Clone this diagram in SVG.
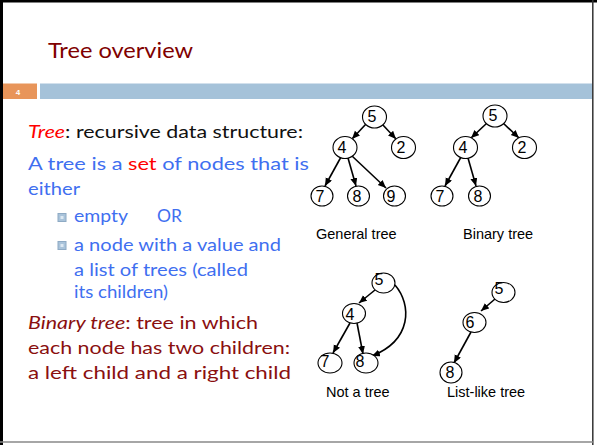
<svg xmlns="http://www.w3.org/2000/svg" width="597" height="445" viewBox="0 0 597 445">
<style>
.body{font-family:Lato,"Open Sans","Liberation Sans",sans-serif;font-size:18px}
.blue{fill:#3f6ff0}
.red{fill:#ff0000}
.dk{fill:#8a0f0f}
.blk{fill:#111}
.nd ellipse{fill:#fff;stroke:#000;stroke-width:1.1}
.nd text{font-family:"Liberation Sans",Arial,sans-serif;font-size:16px;text-anchor:middle;fill:#000}
.cap{font-family:"Liberation Sans",Arial,sans-serif;font-size:14.5px;fill:#000}
.e{stroke:#000;stroke-width:1.6;fill:none;marker-end:url(#ah)}
.bul{fill:#a9c3da;stroke:#8eaac4;stroke-width:1}
</style>
<defs>
<marker id="ah" markerUnits="userSpaceOnUse" markerWidth="9" markerHeight="8" refX="8" refY="3.5" orient="auto">
<path d="M0,0 L8,3.5 L0,7 z" fill="#000"/>
</marker>
</defs>
<rect x="0" y="0" width="597" height="445" fill="#fff"/>
<!-- frame -->
<rect x="0" y="0" width="3" height="445" fill="#000"/>
<rect x="0" y="0" width="597" height="2.5" fill="#000"/>
<line x1="592.8" y1="0" x2="592.8" y2="445" stroke="#333" stroke-width="1.5"/>
<line x1="0" y1="442" x2="593" y2="442" stroke="#888" stroke-width="1.5"/>
<!-- title -->
<text x="48" y="58" font-family="Lato,'Open Sans','Liberation Sans',sans-serif" font-size="22" fill="#800000" textLength="145" lengthAdjust="spacingAndGlyphs">Tree overview</text>
<rect x="3" y="83.5" width="34" height="15.5" fill="#e8955a"/>
<rect x="40" y="83.5" width="552" height="15.5" fill="#a5c2d9"/>
<text x="18" y="94.5" font-family="'Liberation Sans',Arial,sans-serif" font-size="8" font-weight="bold" fill="#fff" text-anchor="middle">4</text>
<!-- body text -->
<text class="body blk" x="28" y="138" textLength="275" lengthAdjust="spacingAndGlyphs"><tspan class="red" font-style="italic">Tree</tspan>: recursive data structure:</text>
<text class="body blue" x="28" y="170" textLength="281" lengthAdjust="spacingAndGlyphs">A tree is a <tspan class="red">set</tspan> of nodes that is</text>
<text class="body blue" x="28" y="195" textLength="52" lengthAdjust="spacingAndGlyphs">either</text>
<rect class="bul" x="58" y="213.5" width="8" height="8"/>
<rect x="60.5" y="216" width="3" height="3" fill="#dce8f2"/>
<text class="body blue" x="74" y="222" textLength="54" lengthAdjust="spacingAndGlyphs">empty</text>
<text class="body blue" x="157" y="222" textLength="25" lengthAdjust="spacingAndGlyphs">OR</text>
<rect class="bul" x="58" y="241.5" width="8" height="8"/>
<rect x="60.5" y="244" width="3" height="3" fill="#dce8f2"/>
<text class="body blue" x="74" y="251" textLength="207" lengthAdjust="spacingAndGlyphs">a node with a value and</text>
<text class="body blue" x="74" y="276" textLength="174" lengthAdjust="spacingAndGlyphs">a list of trees (called</text>
<text class="body blue" x="74" y="298" textLength="94" lengthAdjust="spacingAndGlyphs">its children)</text>
<text class="body dk" x="28" y="329" textLength="230" lengthAdjust="spacingAndGlyphs"><tspan font-style="italic">Binary tree</tspan>: tree in which</text>
<text class="body dk" x="28" y="354" textLength="262" lengthAdjust="spacingAndGlyphs">each node has two children:</text>
<text class="body dk" x="28" y="379" textLength="263" lengthAdjust="spacingAndGlyphs">a left child and a right child</text>
<!-- connectors -->
<g id="connectors">
<line class="e" x1="366" y1="124" x2="352" y2="139"/>
<line class="e" x1="382" y1="124" x2="396" y2="139"/>
<line class="e" x1="341" y1="157" x2="325" y2="186"/>
<line class="e" x1="348" y1="158" x2="356" y2="186"/>
<line class="e" x1="352" y1="156" x2="386" y2="188"/>
<line class="e" x1="487" y1="123" x2="471" y2="138"/>
<line class="e" x1="503" y1="123" x2="519" y2="138"/>
<line class="e" x1="461" y1="157" x2="445" y2="186"/>
<line class="e" x1="468" y1="158" x2="476" y2="186"/>
<line class="e" x1="375" y1="290" x2="359" y2="303"/>
<line class="e" x1="350" y1="323" x2="333" y2="353"/>
<line class="e" x1="357" y1="323" x2="363" y2="354"/>
<path class="e" d="M395,285 C412,305 412,340 372,356"/>
<line class="e" x1="495" y1="299" x2="481" y2="311"/>
<line class="e" x1="471" y1="332" x2="454" y2="363"/>
</g>
<!-- general tree -->
<g id="g5" class="nd"><ellipse cx="374.5" cy="117" rx="12" ry="11"/><text x="372" y="122">5</text></g>
<g id="g4" class="nd"><ellipse cx="345" cy="147.5" rx="12" ry="11"/><text x="342" y="153">4</text></g>
<g id="g2" class="nd"><ellipse cx="403.5" cy="147.5" rx="12" ry="11"/><text x="401" y="153">2</text></g>
<g id="g7" class="nd"><ellipse cx="322" cy="196" rx="11" ry="10"/><text x="320" y="201.5">7</text></g>
<g id="g8" class="nd"><ellipse cx="358.5" cy="196" rx="11" ry="10"/><text x="357" y="201.5">8</text></g>
<g id="g9" class="nd"><ellipse cx="394.5" cy="196" rx="11" ry="10"/><text x="391" y="201.5">9</text></g>
<text class="cap" x="316" y="239">General tree</text>
<!-- binary tree -->
<g id="b5" class="nd"><ellipse cx="495" cy="116" rx="12" ry="11"/><text x="493" y="121">5</text></g>
<g id="b4" class="nd"><ellipse cx="465.5" cy="147.5" rx="12" ry="11"/><text x="463" y="153">4</text></g>
<g id="b2" class="nd"><ellipse cx="524.5" cy="147.5" rx="12" ry="11"/><text x="522" y="153">2</text></g>
<g id="b7" class="nd"><ellipse cx="442" cy="196" rx="11" ry="10"/><text x="440" y="201.5">7</text></g>
<g id="b8" class="nd"><ellipse cx="479.5" cy="196" rx="11" ry="10"/><text x="478" y="201.5">8</text></g>
<text class="cap" x="463" y="239">Binary tree</text>
<!-- not a tree -->
<g id="n5" class="nd"><ellipse cx="383.5" cy="283" rx="11.5" ry="10"/><text x="379" y="285">5</text></g>
<g id="n4" class="nd"><ellipse cx="354" cy="313.5" rx="11.5" ry="10"/><text x="350" y="319.5">4</text></g>
<g id="n7" class="nd"><ellipse cx="330" cy="363" rx="12" ry="10"/><text x="325" y="367">7</text></g>
<g id="n8" class="nd"><ellipse cx="366" cy="363" rx="12" ry="10"/><text x="360" y="367">8</text></g>
<text class="cap" x="326" y="397">Not a tree</text>
<!-- list-like tree -->
<g id="l5" class="nd"><ellipse cx="503.5" cy="292.5" rx="11.5" ry="10"/><text x="499" y="294">5</text></g>
<g id="l6" class="nd"><ellipse cx="474.5" cy="322.5" rx="11.5" ry="10"/><text x="470" y="328">6</text></g>
<g id="l8" class="nd"><ellipse cx="451" cy="372.5" rx="11" ry="10.5"/><text x="450" y="378">8</text></g>
<text class="cap" x="447" y="397">List-like tree</text>
</svg>
